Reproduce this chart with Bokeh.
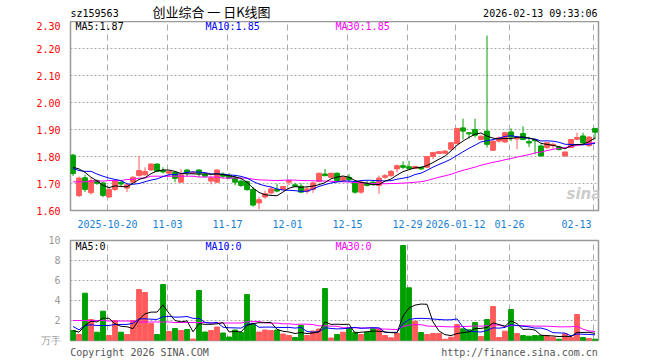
import numpy as np
from bokeh.plotting import figure
from bokeh.layouts import column
from bokeh.models import FixedTicker, Label, PrintfTickFormatter, Range1d, LinearAxis
from bokeh.core.properties import value
from bokeh.embed import file_html
from bokeh.resources import INLINE

# ---------------- data ----------------
open_ = [1.805, 1.655, 1.721, 1.666, 1.711, 1.702, 1.650, 1.678, 1.705, 1.683,
         1.705, 1.729, 1.732, 1.750, 1.772, 1.748, 1.738, 1.741, 1.705, 1.750,
         1.738, 1.750, 1.733, 1.709, 1.705, 1.735, 1.729, 1.721, 1.709, 1.707,
         1.678, 1.628, 1.650, 1.665, 1.678, 1.678, 1.705, 1.695, 1.690, 1.671,
         1.678, 1.707, 1.735, 1.723, 1.738, 1.711, 1.723, 1.705, 1.668, 1.701,
         1.705, 1.693, 1.723, 1.729, 1.754, 1.766, 1.762, 1.756, 1.760, 1.760,
         1.800, 1.811, 1.812, 1.827, 1.848, 1.906, 1.888, 1.900, 1.863, 1.894,
         1.823, 1.857, 1.854, 1.891, 1.865, 1.885, 1.855, 1.863, 1.839, 1.833,
         1.840, 1.835, 1.802, 1.833, 1.864, 1.876, 1.840, 1.904]
high = [1.810, 1.726, 1.732, 1.720, 1.715, 1.705, 1.686, 1.714, 1.708, 1.697,
        1.727, 1.802, 1.760, 1.774, 1.774, 1.760, 1.747, 1.745, 1.754, 1.752,
        1.745, 1.752, 1.735, 1.729, 1.752, 1.741, 1.738, 1.732, 1.715, 1.711,
        1.687, 1.650, 1.674, 1.689, 1.699, 1.690, 1.711, 1.702, 1.701, 1.687,
        1.707, 1.740, 1.754, 1.740, 1.741, 1.727, 1.735, 1.711, 1.711, 1.711,
        1.713, 1.729, 1.735, 1.750, 1.770, 1.782, 1.784, 1.766, 1.762, 1.802,
        1.817, 1.820, 1.823, 1.854, 1.906, 1.940, 1.890, 1.940, 1.878, 2.248,
        1.860, 1.874, 1.891, 1.904, 1.874, 1.912, 1.873, 1.863, 1.845, 1.851,
        1.851, 1.839, 1.817, 1.865, 1.888, 1.888, 1.876, 1.906]
low = [1.728, 1.650, 1.668, 1.659, 1.695, 1.649, 1.647, 1.672, 1.690, 1.668,
       1.703, 1.727, 1.730, 1.748, 1.743, 1.737, 1.725, 1.705, 1.703, 1.726,
       1.735, 1.724, 1.722, 1.697, 1.703, 1.720, 1.717, 1.693, 1.687, 1.674,
       1.614, 1.605, 1.644, 1.659, 1.668, 1.676, 1.693, 1.687, 1.665, 1.662,
       1.665, 1.705, 1.727, 1.720, 1.705, 1.709, 1.705, 1.662, 1.662, 1.689,
       1.693, 1.662, 1.717, 1.725, 1.741, 1.754, 1.754, 1.753, 1.750, 1.757,
       1.790, 1.809, 1.810, 1.825, 1.845, 1.863, 1.867, 1.870, 1.860, 1.833,
       1.821, 1.851, 1.850, 1.857, 1.827, 1.860, 1.835, 1.808, 1.800, 1.827,
       1.827, 1.822, 1.800, 1.831, 1.860, 1.845, 1.835, 1.863]
close = [1.737, 1.720, 1.678, 1.711, 1.701, 1.656, 1.678, 1.711, 1.698, 1.695,
         1.723, 1.748, 1.744, 1.772, 1.745, 1.743, 1.745, 1.719, 1.732, 1.741,
         1.742, 1.738, 1.727, 1.721, 1.750, 1.727, 1.720, 1.705, 1.693, 1.677,
         1.620, 1.640, 1.662, 1.680, 1.672, 1.689, 1.711, 1.690, 1.668, 1.680,
         1.702, 1.738, 1.729, 1.738, 1.711, 1.723, 1.715, 1.668, 1.705, 1.693,
         1.696, 1.720, 1.729, 1.745, 1.766, 1.760, 1.756, 1.763, 1.754, 1.800,
         1.815, 1.818, 1.820, 1.851, 1.904, 1.894, 1.884, 1.879, 1.875, 1.845,
         1.857, 1.869, 1.888, 1.872, 1.870, 1.863, 1.850, 1.858, 1.802, 1.851,
         1.845, 1.826, 1.817, 1.863, 1.870, 1.851, 1.872, 1.890]
volume = [1.00, 0.60, 4.73, 2.10, 0.83, 2.93, 0.50, 2.00, 0.83, 0.60,
          2.00, 5.10, 4.80, 1.70, 0.60, 5.60, 0.90, 1.20, 1.00, 1.10,
          0.15, 5.00, 0.85, 1.00, 1.35, 0.75, 0.35, 1.05, 0.80, 4.60,
          1.60, 0.85, 1.05, 1.00, 1.05, 0.65, 0.50, 0.30, 1.50, 0.50,
          0.95, 1.15, 5.20, 0.25, 0.60, 0.83, 1.27, 0.83, 0.60, 0.83,
          1.17, 1.17, 0.50, 0.27, 0.73, 9.50, 5.27, 1.93, 0.80, 0.60,
          0.70, 0.70, 0.13, 0.33, 1.60, 1.17, 1.07, 1.80, 0.40, 2.10,
          3.40, 0.30, 0.93, 3.10, 0.70, 0.50, 0.43, 0.50, 0.50, 0.50,
          0.33, 0.13, 0.67, 0.33, 2.60, 0.30, 0.20, 0.13]

# moving-average values before a full window exists
ma5_head = [1.760, 1.754, 1.741, 1.723]
ma10_head = [1.756, 1.748, 1.745, 1.745, 1.735, 1.727, 1.720, 1.715, 1.711]
ma30_head = [1.706, 1.706, 1.706, 1.709, 1.709, 1.709, 1.711, 1.711, 1.711, 1.715,
             1.715, 1.720, 1.720, 1.727, 1.727, 1.727, 1.727, 1.727, 1.727, 1.727,
             1.727, 1.724, 1.724, 1.724, 1.724, 1.720, 1.720, 1.720, 1.720]
vma5_head = [1.00, 0.83, 1.50, 1.93]
vma10_head = [1.40, 1.07, 1.50, 1.57, 1.50, 1.50, 1.50, 1.60, 1.60]
vma30_head = [2.00, 2.00, 2.00, 2.00, 2.00, 2.00, 1.95, 1.95, 1.95, 1.95,
              1.95, 1.85, 1.85, 1.85, 1.85, 1.85, 1.85, 1.80, 1.80, 1.80,
              1.80, 1.80, 1.80, 1.75, 1.75, 1.75, 1.75, 1.75, 1.75]

date_idx = [6, 16, 26, 36, 46, 56, 64, 73, 87]
date_labels = ["2025-10-20", "11-03", "11-17", "12-01", "12-15", "12-29",
               "2026-01-12", "01-26", "02-13"]
price_ticks = [1.60, 1.70, 1.80, 1.90, 2.00, 2.10, 2.20, 2.30]
vol_ticks = [0, 2, 4, 6, 8, 10]
vol_unit = "万手"

title_code = "sz159563"
title_text = "创业综合 一 日K线图"
stamp = "2026-02-13 09:33:06"
ma_text = ["MA5:1.87", "MA10:1.85", "MA30:1.85"]
vma_text = ["MA5:0", "MA10:0", "MA30:0"]
copyright_text = "Copyright 2026 SINA.COM"
url_text = "http://finance.sina.com.cn"

# ---------------- helpers ----------------
def rolling(vals, w, head):
    out = list(head)
    arr = np.array(vals, dtype=float)
    for i in range(len(head), len(arr)):
        out.append(float(arr[i - w + 1:i + 1].mean()))
    return out

n = len(close)
idx = np.arange(n)
o = np.array(open_); c = np.array(close)
UP, DN = "#ff5b5b", "#00a000"
cols = [UP if cc >= oo else DN for oo, cc in zip(o, c)]
MONO = "DejaVu Sans Mono"
CJK = "Noto Sans CJK SC"
C_MA = ["#000000", "#0000ff", "#ff00ff"]
GRID = "#aaaaaa"
CHAR_W = 6.02       # width of one 10px monospace character

X0 = -0.42
PX = 6.0            # pixels per candle
FL, FR = 70, 598    # frame left / right in px
HEAD = 21           # header strip height
def px2x(px):
    return X0 + (px - FL) / PX
def x2px(x):
    return FL + (x - X0) * PX

grid_x = [d - 0.33 for d in date_idx]

# date-label centres in frame pixels (last one kept inside the frame)
date_px = [int(round(x2px(g))) for g in grid_x]
date_px[-1] = int(round(x2px(grid_x[-1]) - 1 - len(date_labels[-1]) * CHAR_W / 2))

def style_y(ax, color):
    ax.major_label_text_color = color
    ax.major_label_text_font = MONO
    ax.major_label_text_font_size = "10px"
    ax.major_tick_line_color = None
    ax.minor_tick_line_color = None
    ax.axis_line_color = None
    ax.major_label_standoff = 4

# ---------------- header strip (its frame is aligned with the panels below) ----------------
h = figure(width=660, height=HEAD, x_range=(FL, FR), y_range=(HEAD, 0), title=None,
           output_backend="svg", toolbar_location=None,
           min_border_left=FL, min_border_right=660 - FR, min_border_top=0, min_border_bottom=0)
h.axis.visible = False
h.grid.visible = False
h.outline_line_color = None
h.text(x=[FL], y=[12.8], text=[title_code], text_font=value(MONO), text_font_size=value("10px"),
       text_color="#000000", text_baseline="middle", text_align="left")
h.text(x=[211], y=[11.3], text=[title_text], text_font=value(CJK), text_font_size=value("13px"),
       text_color="#000000", text_baseline="middle", text_align="center")
h.text(x=[597], y=[12.8], text=[stamp], text_font=value(MONO), text_font_size=value("10px"),
       text_color="#000000", text_baseline="middle", text_align="right")

# ---------------- main price panel ----------------
p = figure(width=660, height=230 - HEAD, x_range=(X0, X0 + (FR - FL) / PX), y_range=(1.60, 2.30),
           title=None, output_backend="svg", toolbar_location=None,
           min_border_left=FL, min_border_right=660 - FR, min_border_top=0, min_border_bottom=18)
p.outline_line_color = "#999999"
p.outline_line_width = 1.5
p.xaxis.visible = False
p.yaxis.ticker = FixedTicker(ticks=price_ticks)
p.yaxis.formatter = PrintfTickFormatter(format="%.2f")
style_y(p.yaxis, "#ff0000")
p.ygrid.ticker = FixedTicker(ticks=price_ticks[1:-1])
p.ygrid.grid_line_color = GRID
p.ygrid.grid_line_dash = "2 2"
p.xgrid.ticker = FixedTicker(ticks=grid_x)
p.xgrid.grid_line_color = GRID
p.xgrid.grid_line_dash = "6 4"

p.extra_x_ranges = {"px": Range1d(FL, FR)}
dax = LinearAxis(x_range_name="px", ticker=FixedTicker(ticks=date_px),
                 major_label_overrides={k: t for k, t in zip(date_px, date_labels)})
dax.major_label_text_color = "#1a7fd4"
dax.major_label_text_font = MONO
dax.major_label_text_font_size = "10px"
dax.major_tick_line_color = None
dax.minor_tick_line_color = None
dax.axis_line_color = None
dax.major_label_standoff = 3
p.add_layout(dax, "below")

p.segment(x0=idx, y0=low, x1=idx, y1=high, line_color=cols, line_width=1)
p.vbar(x=idx, width=0.8, top=np.maximum(o, c), bottom=np.minimum(o, c),
       fill_color=cols, line_color=cols, line_width=1)
for vals, w, head, col in [(close, 30, ma30_head, C_MA[2]), (close, 10, ma10_head, C_MA[1]),
                           (close, 5, ma5_head, C_MA[0])]:
    p.line(idx, rolling(vals, w, head), line_color=col, line_width=1)

def py_main(py):
    return 1.60 + (212 - py) * 0.70 / 191.0

for t, xpx, col in zip(ma_text, [75, 205, 335], C_MA):
    p.add_layout(Label(x=px2x(xpx), y=py_main(26), text=t, text_font=MONO,
                       text_font_size="10px", text_color=col, text_baseline="middle"))
p.add_layout(Label(x=px2x(566), y=py_main(204), text="sina", text_font="DejaVu Sans",
                   text_font_style="bold italic", text_font_size="15px",
                   text_color="#cccccc", text_baseline="bottom"))

# ---------------- volume panel ----------------
q = figure(width=660, height=130, x_range=p.x_range, y_range=(0, 10), title=None,
           output_backend="svg", toolbar_location=None,
           min_border_left=FL, min_border_right=660 - FR, min_border_top=10, min_border_bottom=20)
q.outline_line_color = "#999999"
q.outline_line_width = 1.5
q.xaxis.visible = False
q.yaxis.ticker = FixedTicker(ticks=vol_ticks)
q.yaxis.formatter = PrintfTickFormatter(format="%d")
q.yaxis.major_label_overrides = {0: vol_unit}
style_y(q.yaxis, "#999999")
q.ygrid.ticker = FixedTicker(ticks=vol_ticks[1:-1])
q.ygrid.grid_line_color = GRID
q.ygrid.grid_line_dash = "2 2"
q.xgrid.ticker = FixedTicker(ticks=grid_x)
q.xgrid.grid_line_color = GRID
q.xgrid.grid_line_dash = "6 4"

foot_px = [int(round(FL + len(copyright_text) * CHAR_W / 2)),
           int(round(FR - 1 - len(url_text) * CHAR_W / 2))]
q.extra_x_ranges = {"px": Range1d(FL, FR)}
fax = LinearAxis(x_range_name="px", ticker=FixedTicker(ticks=foot_px),
                 major_label_overrides={foot_px[0]: copyright_text, foot_px[1]: url_text})
fax.major_label_text_color = "#555555"
fax.major_label_text_font = MONO
fax.major_label_text_font_size = "10px"
fax.major_tick_line_color = None
fax.minor_tick_line_color = None
fax.axis_line_color = None
fax.major_label_standoff = 0
q.add_layout(fax, "below")

q.vbar(x=idx, width=0.8, top=volume, bottom=0, fill_color=cols, line_color=cols, line_width=1)
for vals, w, head, col in [(volume, 30, vma30_head, C_MA[2]), (volume, 10, vma10_head, C_MA[1]),
                           (volume, 5, vma5_head, C_MA[0])]:
    q.line(idx, rolling(vals, w, head), line_color=col, line_width=1)

for t, xpx, col in zip(vma_text, [75, 205, 335], C_MA):
    q.add_layout(Label(x=px2x(xpx), y=(340 - 246) / 10.0, text=t, text_font=MONO,
                       text_font_size="10px", text_color=col, text_baseline="middle"))

layout = column(h, p, q, spacing=0)
open("out.html", "w").write(file_html(layout, INLINE))
